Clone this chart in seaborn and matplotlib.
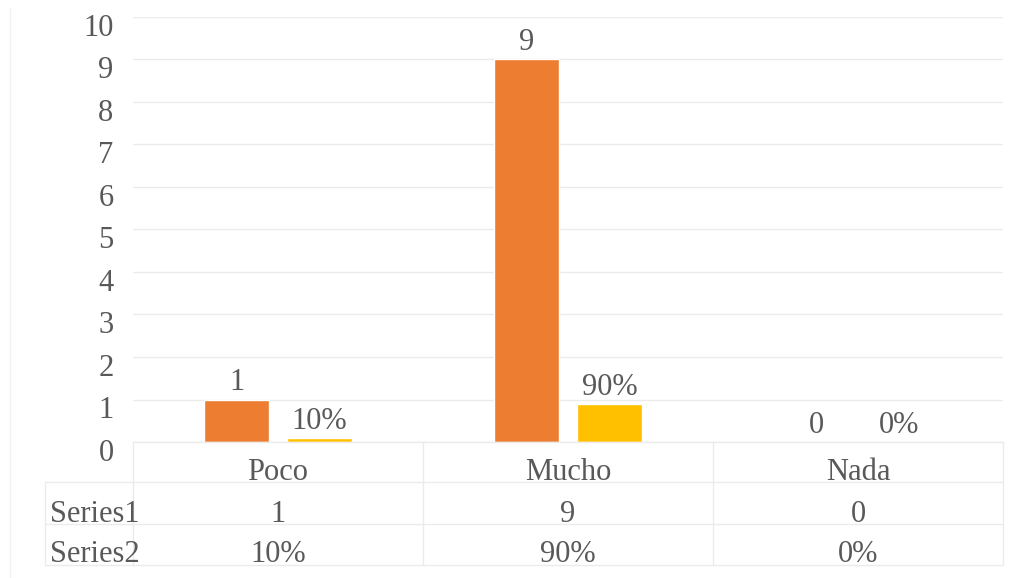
import matplotlib
matplotlib.use("Agg")
import matplotlib.pyplot as plt
import matplotlib.transforms as mtransforms
from matplotlib.lines import Line2D
import pandas as pd
import seaborn as sns

# Data
categories = ["Poco", "Mucho", "Nada"]
series_names = ["Series1", "Series2"]
series1 = [1, 9, 0]
series2 = [0.10, 0.90, 0.0]
series1_labels = ["1", "9", "0"]
series2_labels = ["10%", "90%", "0%"]
y_ticks = list(range(0, 11))

df = pd.DataFrame({
    "Categoría": categories * 2,
    "Serie": [series_names[0]] * 3 + [series_names[1]] * 3,
    "Valor": series1 + series2,
})

sns.set_theme(style="white")
plt.rcParams["font.family"] = ["Liberation Serif", "DejaVu Serif"]

TEXT = "#595959"
GRID = "#EBEBEB"
FS = 22

fig = plt.figure(figsize=(10.34, 5.78), dpi=100)
ax = fig.add_axes([133 / 1034, (578 - 442) / 578, (1003 - 133) / 1034, 425 / 578])

sns.barplot(data=df, x="Categoría", y="Valor", hue="Serie",
            palette=["#ED7D31", "#FFC000"], width=0.572, gap=0.217,
            saturation=1, legend=False, ax=ax)

ax.set_ylim(0, 10)
ax.set_xlim(-0.5, 2.5)
ax.set_yticks(y_ticks)
ax.set_yticklabels([str(t) for t in y_ticks], fontsize=FS, color=TEXT)
ax.tick_params(axis="y", length=0, pad=14)
shift = mtransforms.ScaledTranslation(0, -8 / 100, fig.dpi_scale_trans)
for lbl in ax.get_yticklabels():
    lbl.set_transform(lbl.get_transform() + shift)
ax.set_xticks([])
ax.set_xlabel("")
ax.set_ylabel("")
ax.yaxis.grid(True, color=GRID, linewidth=1)
ax.set_axisbelow(True)
for side in ["left", "right", "top"]:
    ax.spines[side].set_visible(False)
ax.spines["bottom"].set_color(GRID)
ax.spines["bottom"].set_linewidth(1)

for container, labels in zip(ax.containers, [series1_labels, series2_labels]):
    ax.bar_label(container, labels=labels, padding=1.5, fontsize=FS, color=TEXT)

# Data table beneath the plot
trans = mtransforms.blended_transform_factory(ax.transData, ax.transAxes)
px = 1 / 425.0
row_lines = [-40 * px, -82 * px, -123 * px]
x_left_data = -0.5 - (133 - 45) / 290.0

for y in row_lines:
    ax.add_line(Line2D([x_left_data, 2.5], [y, y], transform=trans,
                       color=GRID, linewidth=1, clip_on=False))
for xv in [-0.5, 0.5, 1.5, 2.5]:
    ax.add_line(Line2D([xv, xv], [0, row_lines[-1]], transform=trans,
                       color=GRID, linewidth=1, clip_on=False))
ax.add_line(Line2D([x_left_data, x_left_data], [row_lines[0], row_lines[-1]],
                   transform=trans, color=GRID, linewidth=1, clip_on=False))

row_centers = [-31 * px, -72 * px, -113 * px]
for i, cat in enumerate(categories):
    ax.text(i, row_centers[0], cat, transform=trans, ha="center", va="center",
            fontsize=FS, color=TEXT)
    ax.text(i, row_centers[1], series1_labels[i], transform=trans, ha="center",
            va="center", fontsize=FS, color=TEXT)
    ax.text(i, row_centers[2], series2_labels[i], transform=trans, ha="center",
            va="center", fontsize=FS, color=TEXT)

for name, yc in zip(series_names, row_centers[1:]):
    ax.text(x_left_data + 5 / 290.0, yc, name, transform=trans, ha="left",
            va="center", fontsize=FS, color=TEXT)

# Faint chart border on the left
fig.add_artist(Line2D([10 / 1034, 10 / 1034], [0, 1 - 8 / 578],
                      transform=fig.transFigure, color="#F2F2F2", linewidth=1))

fig.savefig("out.png", dpi=100, facecolor="white")
